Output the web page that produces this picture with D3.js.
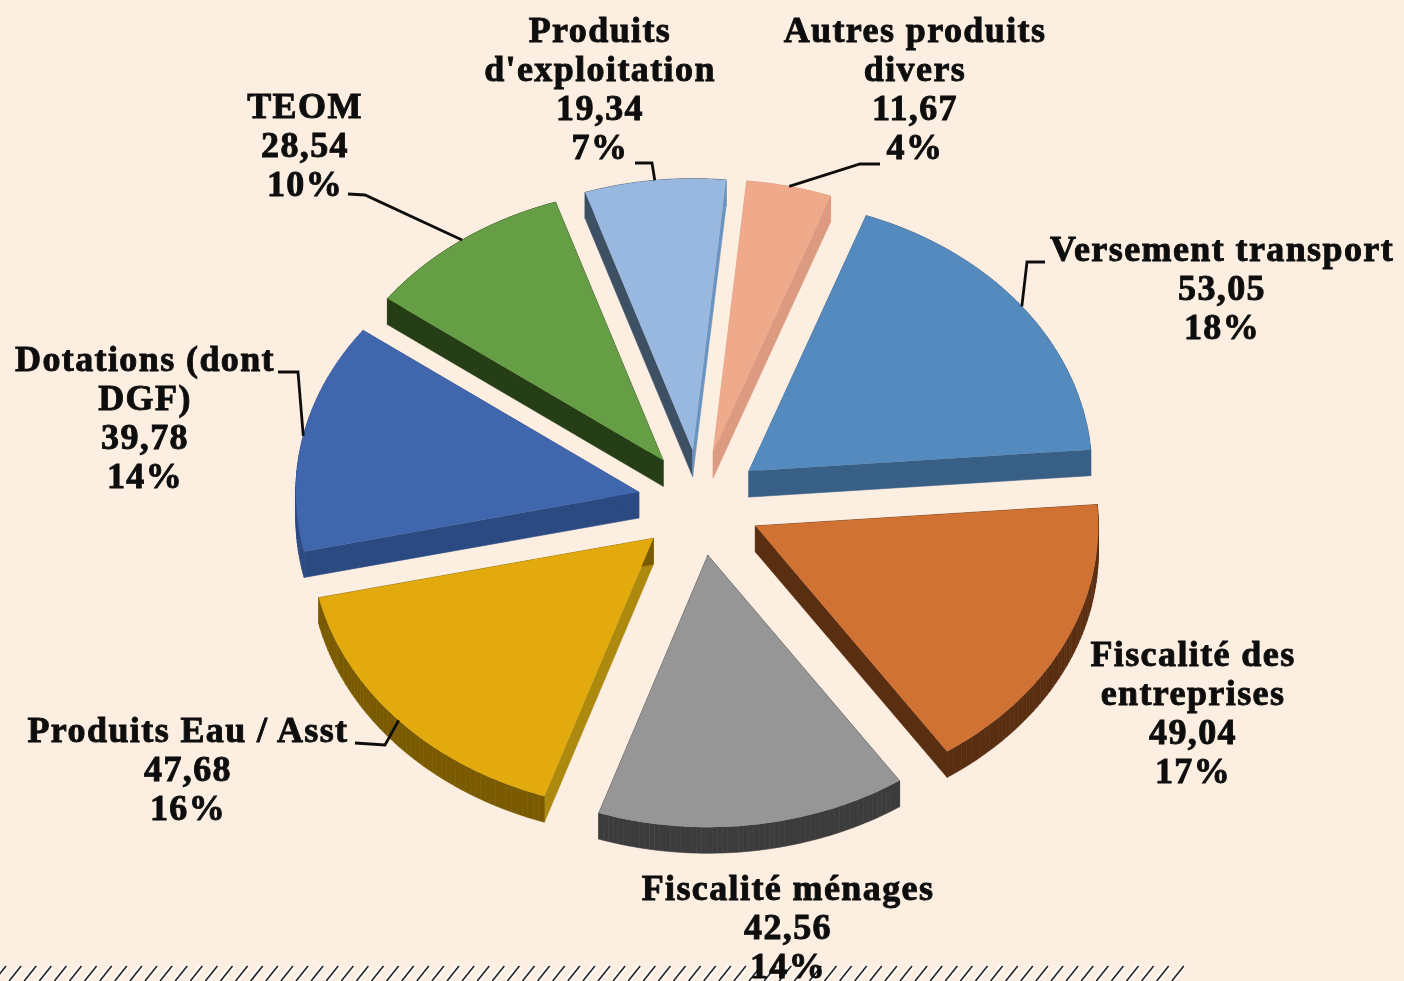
<!DOCTYPE html>
<html><head><meta charset="utf-8">
<style>html,body{margin:0;padding:0;background:#fdeee2;overflow:hidden}svg{display:block}</style>
<script src="https://d3js.org/d3.v7.min.js"></script></head>
<body><svg id="c" width="1404" height="981"></svg>
<script>
const categories=["Versement transport","Fiscalité des entreprises","Fiscalité ménages","Produits Eau / Asst","Dotations (dont DGF)","TEOM","Produits d'exploitation","Autres produits divers"];
const values=[53.05,49.04,42.56,47.68,39.78,28.54,19.34,11.67];
const valueLabels=["53,05","49,04","42,56","47,68","39,78","28,54","19,34","11,67"];
const percents=["18%","17%","14%","16%","14%","10%","7%","4%"];
const nameLines=[["Versement transport"],["Fiscalité des","entreprises"],["Fiscalité ménages"],["Produits Eau / Asst"],["Dotations (dont","DGF)"],["TEOM"],["Produits","d'exploitation"],["Autres produits","divers"]];
const topColors=["#548abd","#d07233","#969696","#e2aa0c","#4067ae","#669e45","#98b8e0","#efa98b"];
const wallColors=["#385f85","#5a2e10","#3c3c3c","#7a5a00","#2c4a82","#263e15","#3d5064","#dc9a80"];
const startEdgeColors=[null,null,null,"#ad8a0e",null,null,null,null];
const endEdgeColors=[null,null,null,null,null,null,"#6a94c0",null];

const W=1404,H=981,cx=699.5,cy=503,rx=343,ry=272,explode=62,explodeY=0.85,depth=26;
const labelPos=[[1222,261],[1193,666],[788,900],[188,742],[145,371],[305,118],[600,42],[915,42]];
const leaderStart=[[[1045,262],[1027,262]],null,null,[[355,743],[385,745]],[[278,372],[298,372]],[[348,194],[365,195]],[[635,163],[652,163]],[[880,164],[860,164]]];
const lineH=39;

const svg=d3.select("#c");
const defs=svg.append("defs");
defs.append("filter").attr("id","soft").append("feGaussianBlur").attr("stdDeviation",0.65);
svg.append("rect").attr("width",W).attr("height",H).attr("fill","#fdeee2");

const rad=Math.PI/180;
const pie=d3.pie().sort(null).startAngle(20*rad).endAngle(380*rad);
const arcs=pie(values).map((d,i)=>{
  const a0=d.startAngle,a1=d.endAngle,mid=(a0+a1)/2;
  const ox=cx+explode*Math.sin(mid),oy=cy-explode*explodeY*Math.cos(mid);
  const on=a=>[ox+rx*Math.sin(a),oy-ry*Math.cos(a)];
  const pts=[[ox,oy]].concat(d3.range(0,61).map(k=>on(a0+(a1-a0)*k/60)));
  return {i,pts,on,mid};
});
const line=d3.line();
const g=svg.append("g");
arcs.forEach(s=>{
  const sl=g.append("g").attr("data-name",categories[s.i]);
  const segs=d3.pairs(s.pts.concat([s.pts[0]]));
  segs.forEach(([p,q],k)=>{
    const col=(k===0&&startEdgeColors[s.i])||(k===segs.length-1&&endEdgeColors[s.i])||wallColors[s.i];
    sl.append("path").attr("d",line([p,q,[q[0],q[1]+depth],[p[0],p[1]+depth]])+"Z")
      .attr("fill",col).attr("stroke",col).attr("stroke-width",0.6);
  });
  sl.append("path").attr("d",line(s.pts)+"Z").attr("fill",topColors[s.i]);
});

// hatch band
const hatchXs=d3.range(-6,1178,15.1);
const hatch=svg.append("g");
hatch.selectAll("line.w").data(hatchXs).join("line").attr("x1",d=>d).attr("y1",981).attr("x2",d=>d+12).attr("y2",966).attr("stroke","#fff").attr("stroke-width",6).attr("opacity",.75);
hatch.selectAll("line.k").data(hatchXs).join("line").attr("x1",d=>d).attr("y1",981).attr("x2",d=>d+12).attr("y2",966).attr("stroke","#222").attr("stroke-width",1.6);

// leaders
const lab=svg.append("g").attr("filter","url(#soft)");
arcs.forEach(s=>{
  const st=leaderStart[s.i]; if(!st) return;
  lab.append("path").attr("d",line(st.concat([s.on(s.mid)]))).attr("fill","none").attr("stroke","#111").attr("stroke-width",2.8);
});
// labels
arcs.forEach(s=>{
  const rows=nameLines[s.i].concat([valueLabels[s.i],percents[s.i]]);
  const [x,y]=labelPos[s.i];
  lab.selectAll(null).data(rows).join("text").attr("x",x).attr("y",(d,k)=>y+k*lineH)
    .attr("text-anchor","middle").attr("font-family","'Liberation Serif',serif").attr("font-weight","bold")
    .attr("font-size",36).attr("letter-spacing",1.4).attr("stroke","#0a0a0a").attr("stroke-width",0.9).attr("fill","#0a0a0a").text(d=>d);
});
</script></body></html>
